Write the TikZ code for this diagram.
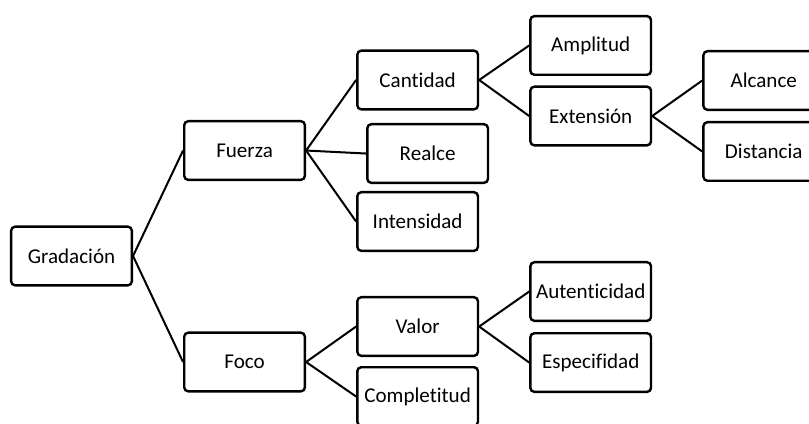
\documentclass[tikz,border=0pt]{standalone}
\usepackage{fontspec}
\setmainfont{Carlito}[Ligatures=NoCommon]
\usepackage{tikz}
\usetikzlibrary{positioning}
\tikzset{main node/.style={rectangle,rounded corners=3pt,draw,line width=1.8pt,minimum width=90.5pt,minimum height=44pt,inner sep=2pt,font=\fontsize{15.8}{19}\selectfont},}

\begin{document}
\begin{tikzpicture}[auto, node distance=37.5pt, line width=1.5pt]
	\useasboundingbox (-53.625pt,-126pt) rectangle (553.125pt,192pt);
	\node[main node] (grad) {Gradación};
	\node[main node] (fuerza) [right = of grad, yshift=79.1pt] {Fuerza};
	\node[main node] (foco) [right = of grad, yshift=-79.5pt] {Foco};
	\node[main node] (cant) [right = of fuerza, yshift=52.9pt] {Cantidad};
	\node[main node] (realce) [right = of fuerza, xshift=7.5pt, yshift=-2.25pt] {Realce};
	\node[main node] (inten) [right = of fuerza, yshift=-53.25pt] {Intensidad};
	\node[main node] (valor) [right = of foco, yshift=26.6pt] {Valor};
	\node[main node] (compl) [right = of foco, yshift=-25.9pt] {Completitud};
	\node[main node] (ampl) [right = of cant, yshift=25.9pt] {Amplitud};
	\node[main node] (ext) [right = of cant, yshift=-27pt] {Extensión};
	\node[main node] (auten) [right = of valor, yshift=26.25pt] {Autenticidad};
	\node[main node] (espec) [right = of valor, yshift=-27pt] {Especifidad};
	\node[main node] (alc) [right = of ext, yshift=26.6pt] {Alcance};
	\node[main node] (dist) [right = of ext, yshift=-26.6pt] {Distancia};

	\path[draw]
	(grad.east) edge (fuerza.west)
	(grad.east) edge (foco.west)
	(fuerza.east) edge (cant.west)
	(fuerza.east) edge (realce.west)
	(fuerza.east) edge (inten.west)
	(foco.east) edge (valor.west)
	(foco.east) edge (compl.west)
	(cant.east) edge (ampl.west)
	(cant.east) edge (ext.west)
	(valor.east) edge (auten.west)
	(valor.east) edge (espec.west)
	(ext.east) edge (alc.west)
	(ext.east) edge (dist.west);
\end{tikzpicture}
\end{document}
